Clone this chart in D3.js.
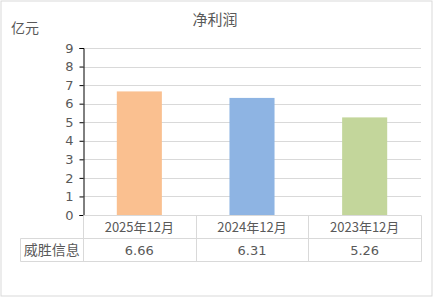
<!DOCTYPE html>
<html>
<head>
<meta charset="utf-8">
<script src="https://cdn.jsdelivr.net/npm/d3@7"></script>
<style>
  body { margin: 0; background: #fff; }
  text { font-family: "Noto Sans CJK SC", "DejaVu Sans", sans-serif; fill: #595959; }
</style>
</head>
<body>
<div id="chart"></div>
<script>
// chart data
const categories = ["2025年12月", "2024年12月", "2023年12月"];
const values = [6.66, 6.31, 5.26];
const seriesName = "威胜信息";
const yTicks = [0, 1, 2, 3, 4, 5, 6, 7, 8, 9];
const colors = ["#FAC090", "#8EB4E3", "#C3D69B"];

const width = 434;
const height = 298;
const margin = { left: 83, right: 13, top: 48, bottom: 83 };

const svg = d3.select("#chart").append("svg")
    .attr("width", width)
    .attr("height", height);

// outer frame
svg.append("rect")
    .attr("x", 1).attr("y", 1)
    .attr("width", width - 3).attr("height", height - 3)
    .attr("fill", "none")
    .attr("stroke", "#d9d9d9");

const x = d3.scaleBand()
    .domain(categories)
    .range([margin.left, width - margin.right])
    .paddingInner(0)
    .paddingOuter(0);

const y = d3.scaleLinear()
    .domain([0, 9])
    .range([height - margin.bottom, margin.top]);

// gridlines
svg.append("g")
    .selectAll("line")
    .data(yTicks.filter(d => d > 0))
    .enter().append("line")
    .attr("x1", margin.left)
    .attr("x2", width - margin.right)
    .attr("y1", d => Math.round(y(d)) + 0.5)
    .attr("y2", d => Math.round(y(d)) + 0.5)
    .attr("stroke", "#d9d9d9");

// bars
svg.append("g")
    .selectAll("rect")
    .data(values)
    .enter().append("rect")
    .attr("x", (d, i) => x(categories[i]) + x.bandwidth() * 0.3)
    .attr("width", x.bandwidth() * 0.4)
    .attr("y", d => y(d))
    .attr("height", d => y(0) - y(d))
    .attr("fill", (d, i) => colors[i]);

// y axis
const yAxis = svg.append("g")
    .attr("transform", `translate(${margin.left + 0.5},0)`)
    .call(d3.axisLeft(y).tickValues(yTicks).tickSize(4).tickPadding(6));
yAxis.select(".domain").attr("stroke", "#000");
yAxis.selectAll(".tick line").attr("stroke", "#000");
yAxis.selectAll("text")
    .style("font-family", "\"DejaVu Sans\", sans-serif")
    .style("font-size", "13px")
    .attr("fill", "#595959");

// data table
const tableTop = Math.round(y(0)) + 0.5;
const rowH = 23;
const tableLeft = 20.5;
const tableRight = width - margin.right + 0.5;
const table = svg.append("g").attr("stroke", "#d9d9d9").attr("fill", "none");

table.append("line")
    .attr("x1", margin.left + 0.5).attr("x2", tableRight)
    .attr("y1", tableTop).attr("y2", tableTop);
table.append("line")
    .attr("x1", tableLeft).attr("x2", tableRight)
    .attr("y1", tableTop + rowH).attr("y2", tableTop + rowH);
table.append("line")
    .attr("x1", tableLeft).attr("x2", tableRight)
    .attr("y1", tableTop + rowH * 2).attr("y2", tableTop + rowH * 2);
table.append("line")
    .attr("x1", tableLeft).attr("x2", tableLeft)
    .attr("y1", tableTop + rowH).attr("y2", tableTop + rowH * 2);

const edges = categories.map(c => Math.round(x(c)) + 0.5).concat([tableRight]);
table.selectAll(".vline")
    .data(edges)
    .enter().append("line")
    .attr("x1", d => d).attr("x2", d => d)
    .attr("y1", tableTop).attr("y2", tableTop + rowH * 2);

// category labels
svg.append("g")
    .selectAll("text")
    .data(categories)
    .enter().append("text")
    .attr("x", d => x(d) + x.bandwidth() / 2)
    .attr("y", tableTop + rowH / 2)
    .attr("dy", "0.36em")
    .attr("text-anchor", "middle")
    .style("font-size", "13px")
    .text(d => d);

// value labels
svg.append("g")
    .selectAll("text")
    .data(values)
    .enter().append("text")
    .attr("x", (d, i) => x(categories[i]) + x.bandwidth() / 2)
    .attr("y", tableTop + rowH * 1.5)
    .attr("dy", "0.36em")
    .attr("text-anchor", "middle")
    .style("font-size", "13px")
    .style("font-family", "\"DejaVu Sans\", sans-serif")
    .text(d => d.toFixed(2));

svg.append("text")
    .attr("x", (tableLeft + margin.left) / 2)
    .attr("y", tableTop + rowH * 1.5)
    .attr("dy", "0.36em")
    .attr("text-anchor", "middle")
    .style("font-size", "14px")
    .text(seriesName);

// title and unit
svg.append("text")
    .attr("x", 215)
    .attr("y", 20)
    .attr("dy", "0.36em")
    .attr("text-anchor", "middle")
    .style("font-size", "15px")
    .text("净利润");

svg.append("text")
    .attr("x", 11)
    .attr("y", 28)
    .attr("dy", "0.36em")
    .style("font-size", "14px")
    .text("亿元");
</script>
</body>
</html>
